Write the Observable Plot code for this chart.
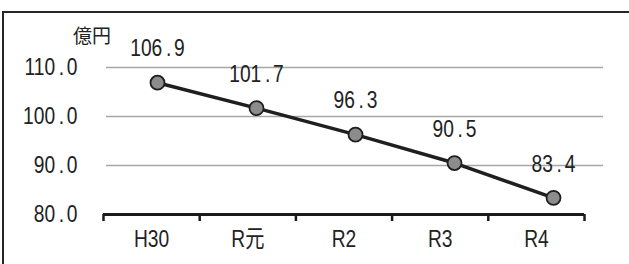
<!DOCTYPE html>
<html><head><meta charset="utf-8">
<script src="https://cdn.jsdelivr.net/npm/d3@7"></script>
<script src="https://cdn.jsdelivr.net/npm/@observablehq/plot@0.6"></script>
<style>
body{margin:0;background:#fff}
#chart{position:relative;width:629px;height:264px;overflow:hidden;background:#fff}
#border{position:absolute;left:2px;top:11px;width:700px;height:400px;border-top:2px solid #262626;border-left:2px solid #262626}
#chart svg{position:absolute;left:0;top:0}
#unit{position:absolute;left:73px;top:25px;font-family:"Noto Sans CJK JP",sans-serif;font-size:19px;line-height:19px;color:#222}
</style></head>
<body><div id="chart"><div id="border"></div><div id="unit"></div></div>
<script>
const categories = ["H30", "R元", "R2", "R3", "R4"];
const values = [106.9, 101.7, 96.3, 90.5, 83.4];
const yTicks = [80, 90, 100, 110];
const gridValues = [90, 100, 110];
const unit = "億円";

const data = categories.map((c, i) => ({category: c, value: values[i]}));
const font = '"Liberation Sans","Noto Sans CJK JP",sans-serif';
const yDomain = [80, 110];
document.getElementById("unit").textContent = unit;

const axes = Plot.plot({
  width: 629, height: 264,
  marginLeft: 103, marginRight: 45, marginTop: 67, marginBottom: 50,
  style: {fontFamily: font, fontSize: "24px", color: "#222", background: "transparent", overflow: "visible"},
  x: {type: "linear", domain: [0, categories.length]},
  y: {domain: yDomain},
  marks: [
    Plot.axisY(yTicks, {tickSize: 0, tickPadding: 26, tickFormat: d => d.toFixed(1), fontSize: 24, label: null}),
    Plot.axisX(d3.range(categories.length + 1), {tickSize: 7, strokeWidth: 2.5, stroke: "#1a1a1a", tickFormat: () => "", label: null}),
    Plot.axisX(categories.map((c, i) => i + 0.5), {tickSize: 0, tickPadding: 15, fontSize: 24, tickFormat: d => categories[Math.floor(d)], label: null}),
    Plot.ruleY([80], {stroke: "#1a1a1a", strokeWidth: 3})
  ]
});

const plotArea = Plot.plot({
  width: 629, height: 264,
  marginLeft: 106, marginRight: 26, marginTop: 67, marginBottom: 50,
  style: {fontFamily: font, fontSize: "24px", background: "transparent", overflow: "visible"},
  x: {type: "point", domain: categories, padding: 0.5, axis: null},
  y: {domain: yDomain, axis: null},
  marks: [
    Plot.ruleY(gridValues, {stroke: "#a6a6a6", strokeWidth: 1.5}),
    Plot.line(data, {x: "category", y: "value", stroke: "#1f1f1f", strokeWidth: 3.5}),
    Plot.dot(data, {x: "category", y: "value", r: 7, fill: "#8c8c8c", stroke: "#1f1f1f", strokeWidth: 1.8}),
    Plot.text(data, {x: "category", y: "value", text: d => d.value.toFixed(1), dy: -34, fontSize: 24, fill: "#222"})
  ]
});

// narrow the typeface horizontally around each text's anchor; widen the decimal point like the source font
function narrow(svg, k) {
  const ns = "http://www.w3.org/2000/svg";
  svg.querySelectorAll("text").forEach(t => {
    const tr = t.getAttribute("transform") || "";
    t.setAttribute("transform", `${tr} scale(${k},1)`);
    const s = t.textContent;
    const m = /^(\d+)\.(\d)$/.exec(s);
    if (m) {
      t.textContent = m[1];
      const p = document.createElementNS(ns, "tspan");
      p.setAttribute("dx", 4.5); p.textContent = ".";
      const q = document.createElementNS(ns, "tspan");
      q.setAttribute("dx", 3.5); q.textContent = m[2];
      t.appendChild(p); t.appendChild(q);
    }
  });
}
narrow(axes, 0.8);
narrow(plotArea, 0.8);

const chart = document.getElementById("chart");
chart.appendChild(axes);
chart.appendChild(plotArea);
</script>
</body></html>
